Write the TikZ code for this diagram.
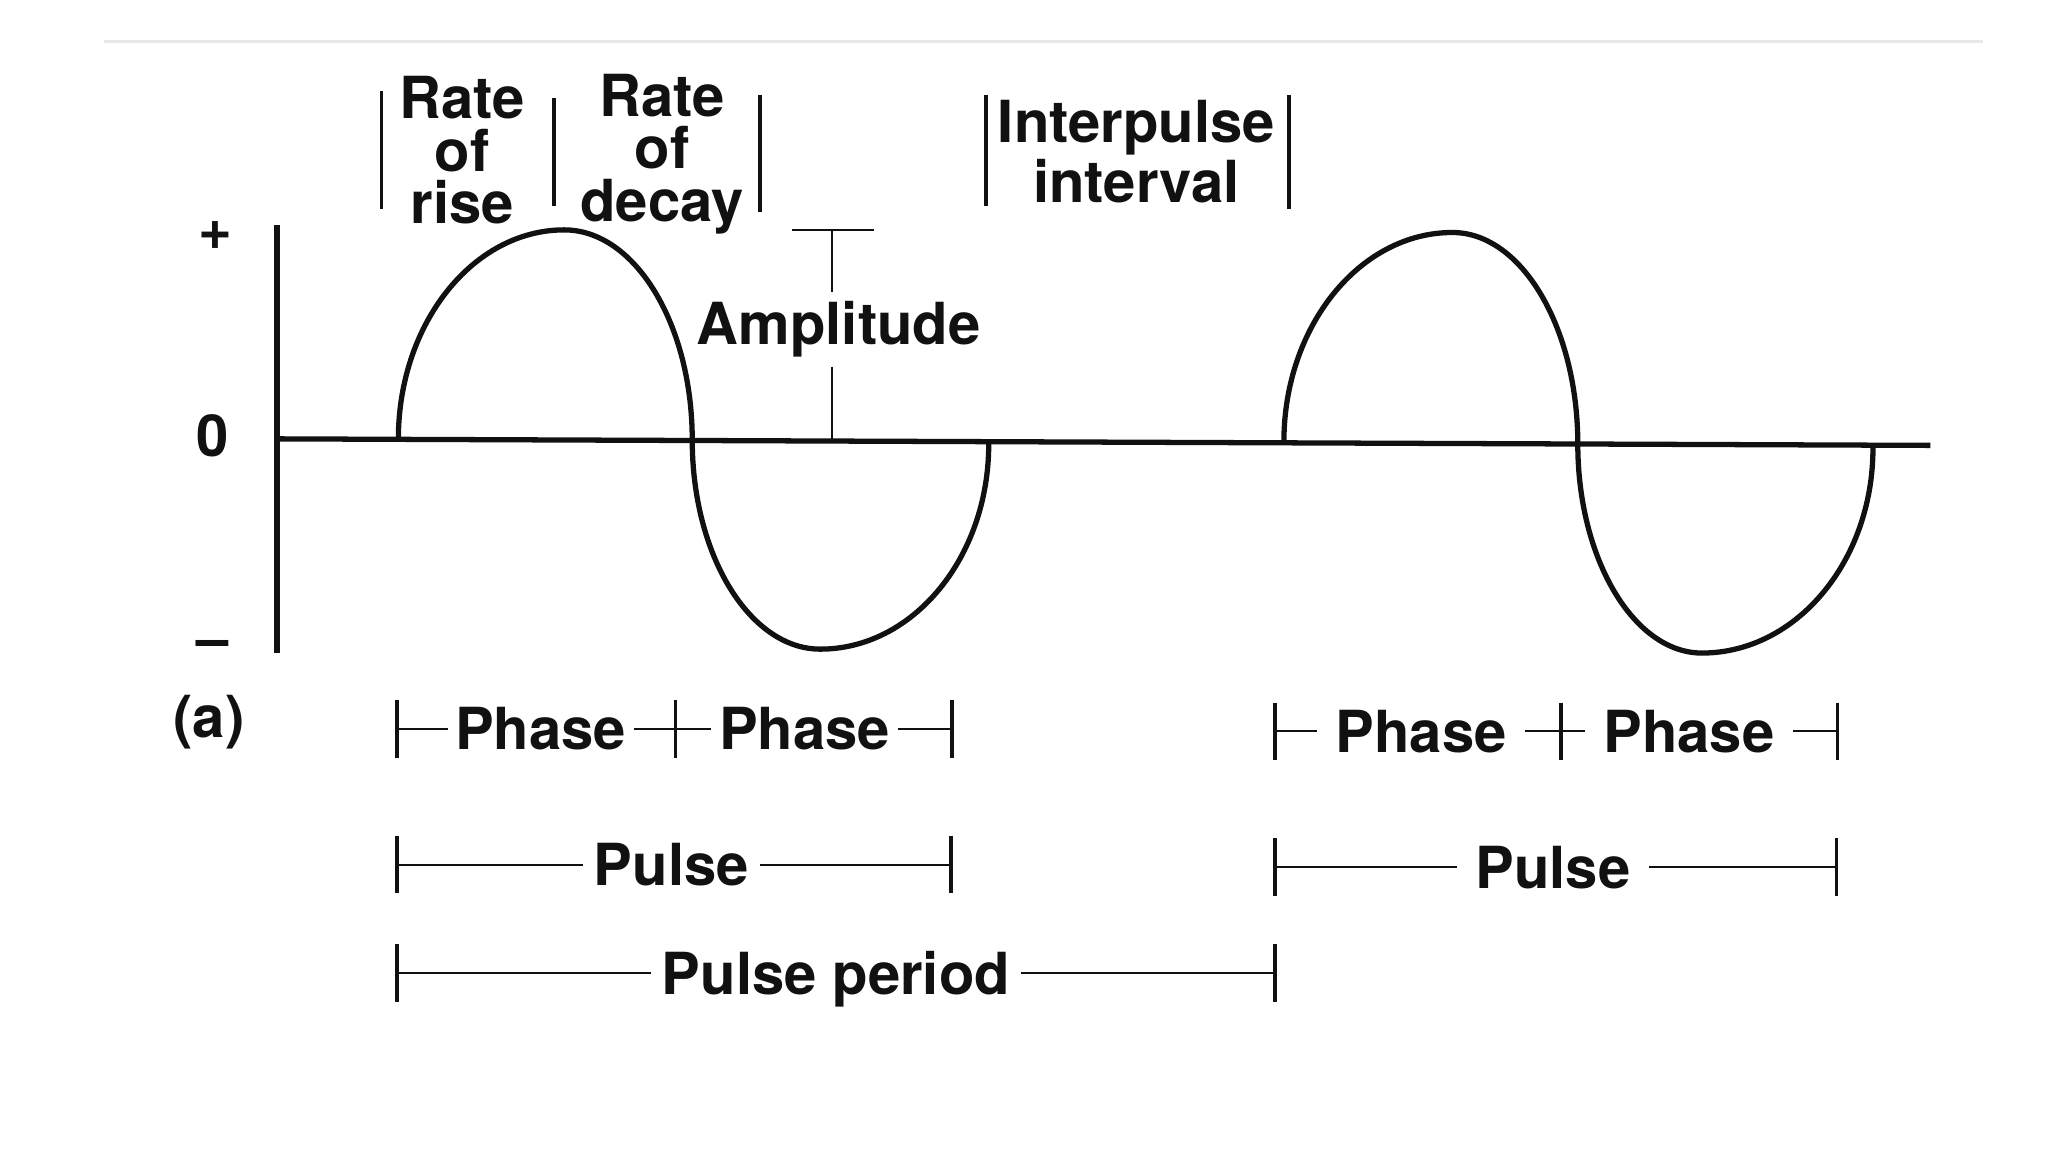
\documentclass[tikz,border=0pt]{standalone}
\usepackage{fontspec}
\setmainfont{TeX Gyre Heros}
\usetikzlibrary{positioning,calc}
\definecolor{ink}{HTML}{111111}
\definecolor{rulegray}{HTML}{E8E8E8}
\tikzset{
  lbl/.style={font=\fontsize{16.5}{15}\selectfont\bfseries, inner sep=0pt,
              align=center, text=ink},
  dimtxt/.style={font=\fontsize{16.5}{15}\selectfont\bfseries, inner xsep=3pt,
                 inner ysep=0pt, text depth=0pt, text=ink},
  axisline/.style={draw=ink, line width=1.5pt},
  waveline/.style={draw=ink, line width=1.5pt, line join=round},
  dimline/.style={draw=ink, line width=0.6pt},
  tickline/.style={draw=ink, line width=1pt}
}
\begin{document}
\begin{tikzpicture}[x=0.01306cm, y=-0.01306cm]
  \useasboundingbox (0,0) rectangle (1568,882);

  % faint rule on top
  \draw[rulegray, line width=0.8pt] (80,32) -- (1518,32);

  % axes
  \coordinate (ytop) at (212,172);
  \coordinate (ybot) at (212,500);
  \coordinate (x0) at (212,336);
  \coordinate (xend) at (1478,341);
  \draw[axisline] (ytop) -- (ybot);
  \draw[axisline] (x0) -- (xend);
  \node[lbl] (plus) at (165,180) {+};
  \node[lbl] (zero) at (163,334) {0};
  \node[lbl] (minus) at (163,497) {--};
  \node[lbl] (tag) at (160,553) {(a)};

  % first pulse
  \draw[waveline] (305,336) .. controls (305,248) and (362,176) .. (432,176)
    .. controls (486,176) and (530,248) .. (530,337)
    .. controls (530,425) and (574,497) .. (628,497)
    .. controls (699,497) and (757,427) .. (757,340);

  % second pulse
  \draw[waveline] (983,338) .. controls (983,250) and (1041,178) .. (1112,178)
    .. controls (1165,178) and (1208,251) .. (1208,340)
    .. controls (1208,428) and (1251,500) .. (1303,500)
    .. controls (1375,500) and (1434,430) .. (1434,343);

  % labels on top
  \node[lbl] (rise) at (354,115) {Rate\\of\\rise};
  \node[lbl] (decay) at (507,118) {Rate\\of\\decay};
  \node[lbl] (ipi) at (870,116) {Interpulse\\interval};
  \draw[tickline] (292,70) -- (292,160);
  \draw[tickline] (424,75) -- (424,158);
  \draw[tickline] (582,73) -- (582,162);
  \draw[tickline] (755,73) -- (755,158);
  \draw[tickline] (987,73) -- (987,160);

  % amplitude
  \coordinate (amptop) at (637,176);
  \coordinate (ampbase) at (637,337);
  \node[lbl, inner ysep=2.5pt] (amp) at (642,252) {Amplitude};
  \draw[dimline] (606,176) -- (669,176);
  \draw[dimline] (amptop) -- (amptop |- amp.north);
  \draw[dimline] (amp.south -| ampbase) -- (ampbase);

  % phases
  \coordinate (pa1) at (304,558);
  \coordinate (pa2) at (517,558);
  \coordinate (pa3) at (729,558);
  \node[dimtxt, inner xsep=2pt] (phA) at (414,558) {Phase};
  \node[dimtxt, inner xsep=2pt] (phB) at (616,558) {Phase};
  \draw[dimline] (pa1) -- (phA);
  \draw[dimline] (phA) -- (phB);
  \draw[dimline] (phB) -- (pa3);

  \coordinate (pb1) at (976,560);
  \coordinate (pb2) at (1195,560);
  \coordinate (pb3) at (1407,560);
  \node[dimtxt, inner xsep=5pt] (phC) at (1088,560) {Phase};
  \node[dimtxt, inner xsep=5pt] (phD) at (1293,560) {Phase};
  \draw[dimline] (pb1) -- (phC);
  \draw[dimline] (phC) -- (phD);
  \draw[dimline] (phD) -- (pb3);

  % pulses
  \coordinate (pu1) at (304,662);
  \coordinate (pu2) at (728,662);
  \node[dimtxt] (puA) at (514,662) {Pulse};
  \draw[dimline] (pu1) -- (puA);
  \draw[dimline] (puA) -- (pu2);

  \coordinate (pu3) at (976,664);
  \coordinate (pu4) at (1406,664);
  \node[dimtxt, inner xsep=5pt] (puB) at (1189,664) {Pulse};
  \draw[dimline] (pu3) -- (puB);
  \draw[dimline] (puB) -- (pu4);

  % pulse period
  \coordinate (pp1) at (304,745);
  \coordinate (pp2) at (976,745);
  \node[dimtxt] (pper) at (640,745) {Pulse period};
  \draw[dimline] (pp1) -- (pper);
  \draw[dimline] (pper) -- (pp2);

  % end ticks
  \foreach \c in {pa1,pa2,pa3,pb1,pb2,pb3,pu1,pu2,pu3,pu4,pp1,pp2}
    \draw[tickline] ([yshift=8.2pt]\c) -- ([yshift=-8.2pt]\c);
\end{tikzpicture}
\end{document}
